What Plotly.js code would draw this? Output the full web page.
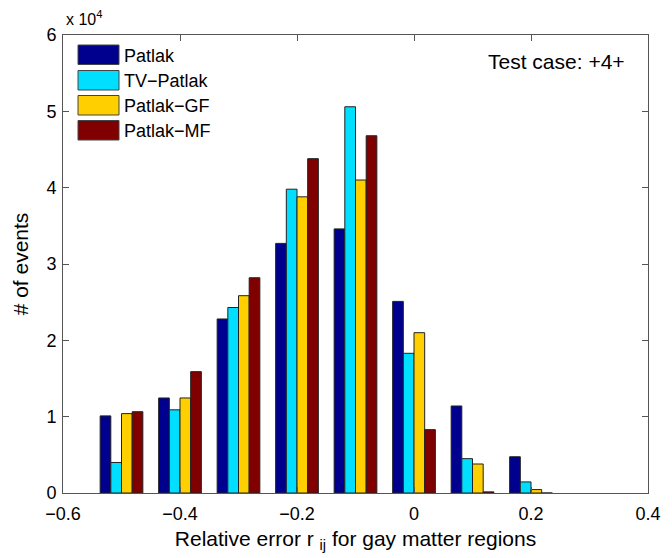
<!DOCTYPE html>
<html>
<head>
<meta charset="utf-8">
<script src="https://cdn.plot.ly/plotly-3.0.1.min.js"></script>
<style>html,body{margin:0;padding:0;background:#fff;}#chart{width:672px;height:558px;}</style>
</head>
<body>
<div id="chart"></div>
<script>
// ---- data ----
const binCenters = [-0.5, -0.4, -0.3, -0.2, -0.1, 0.0, 0.1, 0.2];
const seriesNames = ['Patlak', 'TV\u2212Patlak', 'Patlak\u2212GF', 'Patlak\u2212MF'];
const patlak   = [10100, 12450, 22800, 32700, 34600, 25100, 11400, 4750];
const tvPatlak = [4000, 10900, 24300, 39800, 50600, 18300, 4500, 1450];
const patlakGF = [10400, 12450, 25850, 38800, 41000, 21000, 3800, 450];
const patlakMF = [10650, 15900, 28200, 43800, 46800, 8300, 150, 0];
const xTickVals = [-0.6, -0.4, -0.2, 0, 0.2, 0.4];
const xTickText = ['\u22120.6', '\u22120.4', '\u22120.2', '0', '0.2', '0.4'];
const yTickVals = [0, 1, 2, 3, 4, 5, 6];
const yTickText = ['0', '1', '2', '3', '4', '5', '6'];
const scale = 1e4;
const caseLabel = 'Test case: +4+';

// ---- style ----
const colors = ['#00008F', '#00DFFF', '#FFCF00', '#800000'];
const FONT = 'Liberation Sans, Arial, Helvetica, sans-serif';
const allSeries = [patlak, tvPatlak, patlakGF, patlakMF];

const traces = allSeries.map((s, i) => ({
  type: 'bar',
  name: seriesNames[i],
  x: binCenters,
  y: s.map(v => v / scale),
  marker: {color: colors[i], line: {color: '#222', width: 1}},
  showlegend: false,
  hoverinfo: 'x+y+name'
}));

// plot area in pixels
const L = 63, R = 648, T = 35, B = 493;
const W = 672, H = 558;
const px = x => (x - L) / (R - L);
const py = y => (B - y) / (B - T);

const shapes = [];
const annotations = [];
const swTop = [45, 70.5, 95.5, 120.5];
const swH = 19.5;
seriesNames.forEach((n, i) => {
  shapes.push({
    type: 'rect', xref: 'paper', yref: 'paper',
    x0: px(78), x1: px(119), y0: py(swTop[i] + swH), y1: py(swTop[i]),
    fillcolor: colors[i], line: {color: '#444', width: 1}
  });
  annotations.push({
    xref: 'paper', yref: 'paper', x: px(122), y: py(swTop[i] + swH / 2 + 1),
    xanchor: 'left', yanchor: 'middle', showarrow: false,
    text: n, font: {family: FONT, size: 18, color: '#000'}
  });
});
annotations.push({
  xref: 'paper', yref: 'paper', x: px(627), y: py(61),
  xanchor: 'right', yanchor: 'middle', showarrow: false,
  text: caseLabel, font: {family: FONT, size: 21, color: '#000'}
});
annotations.push({
  xref: 'paper', yref: 'paper', x: px(64), y: py(30),
  xanchor: 'left', yanchor: 'bottom', showarrow: false,
  text: 'x 10<sup>4</sup>', font: {family: FONT, size: 16, color: '#000'}
});

const layout = {
  width: W, height: H,
  margin: {l: L, r: W - R, t: T, b: H - B},
  paper_bgcolor: '#fff', plot_bgcolor: '#fff',
  barmode: 'group', bargap: 0.27, bargroupgap: 0,
  font: {family: FONT, size: 18, color: '#000'},
  xaxis: {
    range: [-0.6, 0.4], tickvals: xTickVals, ticktext: xTickText,
    ticks: 'inside', ticklen: 6, tickcolor: '#555', mirror: 'ticks',
    showline: true, linecolor: '#555', linewidth: 1, showgrid: false, zeroline: false,
    tickfont: {family: FONT, size: 18}, ticklabelstandoff: 4,
    title: {text: 'Relative error r <sub>ij</sub> for gay matter regions', font: {family: FONT, size: 21}, standoff: 8}
  },
  yaxis: {
    range: [0, 6], tickvals: yTickVals, ticktext: yTickText,
    ticks: 'inside', ticklen: 6, tickcolor: '#555', mirror: 'ticks',
    showline: true, linecolor: '#555', linewidth: 1, showgrid: false, zeroline: false,
    tickfont: {family: FONT, size: 18}, ticklabelstandoff: 2,
    title: {text: '# of events', font: {family: FONT, size: 21}, standoff: 12}
  },
  shapes: shapes,
  annotations: annotations,
  showlegend: false
};

Plotly.newPlot('chart', traces, layout, {displayModeBar: false, staticPlot: true});
</script>
</body>
</html>
